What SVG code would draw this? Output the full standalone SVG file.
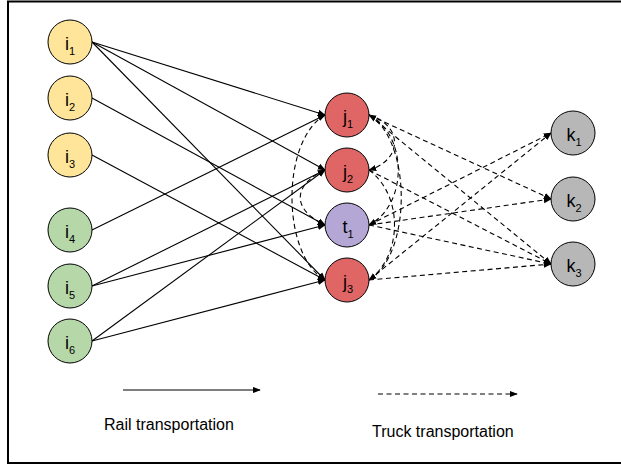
<svg xmlns="http://www.w3.org/2000/svg" width="621" height="465" viewBox="0 0 621 465">
  <style>
    .node circle { stroke: #000; stroke-width: 1; }
    .src-a circle { fill: #ffe599; }
    .src-b circle { fill: #b6d7a8; }
    .term circle { fill: #e06666; }
    .trans circle { fill: #b4a7d6; }
    .dest circle { fill: #b7b7b7; }
    .label { font-family: "Liberation Sans", Arial, sans-serif; font-size: 18px; fill: #000; text-anchor: middle; }
    .sub { font-size: 11px; }
    .rail { stroke: #000; stroke-width: 1.1; fill: none; marker-end: url(#head); }
    .truck { stroke: #000; stroke-width: 1.1; fill: none; stroke-dasharray: 5 3.5; marker-end: url(#head); }
    .legend-text { font-family: "Liberation Sans", Arial, sans-serif; font-size: 16px; fill: #000; }
  </style>
  <defs>
    <marker id="head" viewBox="0 0 10 10" refX="9" refY="5" markerWidth="8" markerHeight="8" markerUnits="userSpaceOnUse" orient="auto">
      <path d="M0,1 L10,5 L0,9 Z" fill="#000"/>
    </marker>
  </defs>

  <!-- frame -->
  <rect x="8" y="1.5" width="620" height="461.5" fill="#fff" stroke="#000" stroke-width="2"/>

  <!-- connectors -->
  <g id="connectors">
    <!-- rail links: origins to terminals -->
    <line class="rail" x1="92" y1="42" x2="325" y2="115"/>
    <line class="rail" x1="92" y1="42" x2="325" y2="170"/>
    <line class="rail" x1="92" y1="42" x2="325" y2="280"/>
    <line class="rail" x1="92" y1="98" x2="325" y2="225"/>
    <line class="rail" x1="92" y1="155" x2="325" y2="280"/>
    <line class="rail" x1="92" y1="230" x2="325" y2="115"/>
    <line class="rail" x1="92" y1="286" x2="325" y2="170"/>
    <line class="rail" x1="92" y1="286" x2="325" y2="225"/>
    <line class="rail" x1="92" y1="341" x2="325" y2="170"/>
    <line class="rail" x1="92" y1="341" x2="325" y2="280"/>

    <!-- truck links: terminals to destinations -->
    <line class="truck" x1="369" y1="115" x2="551" y2="199"/>
    <line class="truck" x1="369" y1="115" x2="551" y2="264"/>
    <line class="truck" x1="369" y1="170" x2="551" y2="264"/>
    <line class="truck" x1="369" y1="225" x2="551" y2="133"/>
    <line class="truck" x1="369" y1="225" x2="551" y2="199"/>
    <line class="truck" x1="369" y1="225" x2="551" y2="264"/>
    <line class="truck" x1="369" y1="280" x2="551" y2="133"/>
    <line class="truck" x1="369" y1="280" x2="551" y2="264"/>

    <!-- truck links between terminals -->
    <path class="truck" d="M369,115 C403,125 403,160 369,170"/>
    <path class="truck" d="M369,280 C412,255 412,140 369,115"/>
    <path class="truck" d="M369,115 C408,135 408,205 369,225"/>
    <path class="truck" d="M369,170 C403,195 403,255 369,280"/>
    <path class="truck" d="M325,115 C281,140 281,255 325,280"/>
    <path class="truck" d="M325,170 C292,185 292,210 325,225"/>
  </g>

  <!-- origins -->
  <g id="i1" class="node src-a"><circle cx="70" cy="42" r="22"/><text class="label" x="70" y="50">i<tspan class="sub" dy="5">1</tspan></text></g>
  <g id="i2" class="node src-a"><circle cx="70" cy="98" r="22"/><text class="label" x="70" y="106">i<tspan class="sub" dy="5">2</tspan></text></g>
  <g id="i3" class="node src-a"><circle cx="70" cy="155" r="22"/><text class="label" x="70" y="163">i<tspan class="sub" dy="5">3</tspan></text></g>
  <g id="i4" class="node src-b"><circle cx="70" cy="230" r="22"/><text class="label" x="70" y="238">i<tspan class="sub" dy="5">4</tspan></text></g>
  <g id="i5" class="node src-b"><circle cx="70" cy="286" r="22"/><text class="label" x="70" y="294">i<tspan class="sub" dy="5">5</tspan></text></g>
  <g id="i6" class="node src-b"><circle cx="70" cy="341" r="22"/><text class="label" x="70" y="349">i<tspan class="sub" dy="5">6</tspan></text></g>

  <!-- terminals -->
  <g id="j1" class="node term"><circle cx="347" cy="115" r="22"/><text class="label" x="348" y="123">j<tspan class="sub" dy="5">1</tspan></text></g>
  <g id="j2" class="node term"><circle cx="347" cy="170" r="22"/><text class="label" x="348" y="178">j<tspan class="sub" dy="5">2</tspan></text></g>
  <g id="t1" class="node trans"><circle cx="347" cy="225" r="22"/><text class="label" x="348" y="233">t<tspan class="sub" dy="5">1</tspan></text></g>
  <g id="j3" class="node term"><circle cx="347" cy="280" r="22"/><text class="label" x="348" y="288">j<tspan class="sub" dy="5">3</tspan></text></g>

  <!-- destinations -->
  <g id="k1" class="node dest"><circle cx="573" cy="133" r="22"/><text class="label" x="574" y="141">k<tspan class="sub" dy="5">1</tspan></text></g>
  <g id="k2" class="node dest"><circle cx="573" cy="199" r="22"/><text class="label" x="574" y="207">k<tspan class="sub" dy="5">2</tspan></text></g>
  <g id="k3" class="node dest"><circle cx="573" cy="264" r="22"/><text class="label" x="574" y="272">k<tspan class="sub" dy="5">3</tspan></text></g>

  <!-- legend -->
  <g id="legend">
    <line x1="123" y1="390" x2="260" y2="390" stroke="#555" stroke-width="1.6" marker-end="url(#head)"/>
    <text class="legend-text" x="104" y="430">Rail transportation</text>
    <line x1="378" y1="394" x2="517" y2="394" stroke="#000" stroke-width="1.1" stroke-dasharray="5 3.5" marker-end="url(#head)"/>
    <text class="legend-text" x="372" y="437">Truck transportation</text>
  </g>
</svg>
